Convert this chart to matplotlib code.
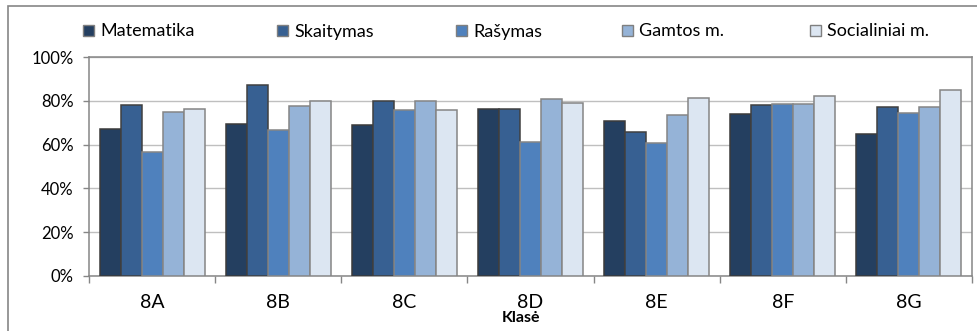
import numpy as np
import matplotlib.pyplot as plt
from matplotlib.patches import Rectangle
from matplotlib.ticker import PercentFormatter

# Duomenys (nuskaityta nuo paveikslo)
klases = ['8A', '8B', '8C', '8D', '8E', '8F', '8G']
matematika = [67.0, 69.5, 68.8, 76.4, 70.6, 74.0, 64.8]
skaitymas = [78.0, 87.4, 80.0, 76.2, 65.6, 77.9, 77.3]
rasymas = [56.8, 66.8, 76.0, 61.2, 60.9, 78.7, 74.6]
gamtos = [74.7, 77.8, 79.8, 81.0, 73.7, 78.7, 77.2]
socialiniai = [76.2, 79.9, 76.0, 79.1, 81.4, 82.2, 84.9]

serijos = ['Matematika', 'Skaitymas', 'Rašymas', 'Gamtos m.', 'Socialiniai m.']
reiksmes = [matematika, skaitymas, rasymas, gamtos, socialiniai]
spalvos = ['#243F60', '#376092', '#4F81BD', '#95B3D7', '#DCE6F2']
krastai = ['#3B3B3B', '#404040', '#858585', '#858585', '#858585']

plt.rcParams['font.family'] = ['Lato', 'DejaVu Sans']

W, H = 977, 331
fig = plt.figure(figsize=(W / 100, H / 100), dpi=100)

# plot area (pikseliais)
x0, x1, y_top, y_bot = 89, 972, 57, 276
ax = fig.add_axes([x0 / W, (H - y_bot) / H, (x1 - x0) / W, (y_bot - y_top) / H])

x = np.arange(len(klases))
w = 1 / 6
for i, (vardas, v) in enumerate(zip(serijos, reiksmes)):
    ax.bar(x + (i - 2) * w, np.array(v) / 100, width=w, color=spalvos[i],
           edgecolor=krastai[i], linewidth=1.1, zorder=3, label=vardas)

ax.set_xlim(-0.5, len(klases) - 0.5)
ax.set_ylim(0, 1)
ax.set_yticks(np.arange(0, 1.01, 0.2))
ax.yaxis.set_major_formatter(PercentFormatter(1.0, decimals=0))
ax.grid(axis='y', color='#BFBFBF', linewidth=1, zorder=0)

ax.set_xticks(x)
ax.set_xticklabels(klases, fontsize=14)
ax.set_xticks(np.arange(-0.5, len(klases)), minor=True)
ax.tick_params(axis='x', which='major', length=0, pad=13)
ax.tick_params(axis='x', which='minor', length=5, color='#868686', width=1)
ax.tick_params(axis='y', length=4.5, color='#868686', width=1, labelsize=12, pad=6.5)

for s in ax.spines.values():
    s.set_color('#868686')
    s.set_linewidth(1.1)

fig.text(521 / W, 1 - 318 / H, 'Klasė', ha='center', va='center',
         fontsize=11.5, fontweight='bold')

# legenda
leg_x = [83, 277, 456, 622, 810]
leg_y = 30.5
for i, vardas in enumerate(serijos):
    fig.add_artist(Rectangle((leg_x[i] / W, 1 - (leg_y + 5.5) / H), 11 / W, 11 / H,
                             transform=fig.transFigure, facecolor=spalvos[i],
                             edgecolor='#7F7F7F', linewidth=1))
    fig.text((leg_x[i] + 17) / W, 1 - 36.5 / H, vardas, ha='left', va='baseline',
             fontsize=13)

# išorinis rėmelis
fig.add_artist(Rectangle((8 / W, -0.2), 1.2, 1.2 - 6 / H, transform=fig.transFigure,
                         facecolor='none', edgecolor='#868686', linewidth=1.2))

fig.savefig('out.png', dpi=100)
